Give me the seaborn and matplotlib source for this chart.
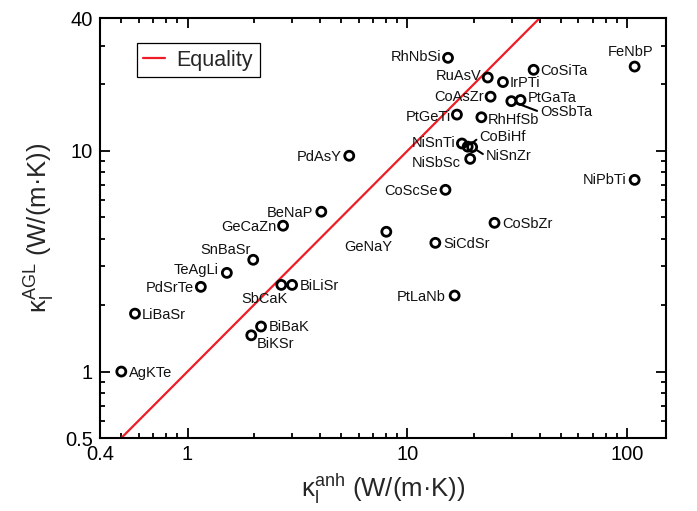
import matplotlib
matplotlib.use("Agg")
import matplotlib.pyplot as plt
import seaborn as sns
import pandas as pd
from matplotlib.ticker import LogLocator, NullFormatter, FixedLocator, FixedFormatter

# ---------------- data ----------------
compounds = ["AgKTe", "LiBaSr", "PdSrTe", "TeAgLi", "SnBaSr", "GeCaZn", "BeNaP",
             "SbCaK", "BiLiSr", "BiBaK", "BiKSr", "GeNaY", "PdAsY", "CoScSe",
             "SiCdSr", "CoSbZr", "PtLaNb", "NiPbTi", "NiSbSc", "NiSnTi", "CoBiHf",
             "NiSnZr", "FeNbP", "CoSiTa", "RhNbSi", "RuAsV", "IrPTi", "CoAsZr",
             "PtGaTa", "OsSbTa", "PtGeTi", "RhHfSb"]
kappa_anh = [0.50, 0.577, 1.15, 1.51, 1.99, 2.72, 4.06,
             2.67, 2.99, 2.16, 1.95, 8.02, 5.44, 14.9,
             13.4, 24.9, 16.4, 108.0, 19.3, 17.7, 18.8,
             19.7, 108.0, 37.5, 15.3, 23.2, 27.2, 23.9,
             32.7, 29.7, 16.8, 21.7]
kappa_agl = [1.00, 1.83, 2.42, 2.80, 3.21, 4.58, 5.30,
             2.47, 2.47, 1.60, 1.46, 4.30, 9.50, 6.66,
             3.83, 4.72, 2.21, 7.39, 9.20, 10.8, 10.45,
             10.4, 24.1, 23.3, 26.4, 21.5, 20.5, 17.6,
             17.0, 16.8, 14.6, 14.2]
equality_range = [0.5, 40]
x_ticks = [0.4, 1, 10, 100]
x_ticklabels = ["0.4", "1", "10", "100"]
y_ticks = [0.5, 1, 10, 40]
y_ticklabels = ["0.5", "1", "10", "40"]

# label placement: (dx px, dy px [image, down positive], ha, leader line)
label_pos = {
    "AgKTe": (8, 1, "left", False), "LiBaSr": (7, 1, "left", False),
    "PdSrTe": (-7, 1, "right", False), "TeAgLi": (-8, -3, "right", False),
    "SnBaSr": (-2, -10, "right", False), "GeCaZn": (-7, 1, "right", False),
    "BeNaP": (-8, 1, "right", False), "SbCaK": (-17, 14, "center", False),
    "BiLiSr": (8, 1.5, "left", False), "BiBaK": (8, 0, "left", False),
    "BiKSr": (5, 9, "left", False), "GeNaY": (-18, 15, "center", False),
    "PdAsY": (-8, 1, "right", False), "CoScSe": (-8, 1, "right", False),
    "SiCdSr": (8, 1, "left", False), "CoSbZr": (8, 1, "left", False),
    "PtLaNb": (-9, 1, "right", False), "NiPbTi": (-8, 0, "right", False),
    "NiSbSc": (-9, 4, "right", False), "NiSnTi": (-6, 0, "right", False),
    "CoBiHf": (12, -9.5, "left", True), "NiSnZr": (14, 9, "left", True),
    "FeNbP": (-4.5, -15, "center", False), "CoSiTa": (7, 1.5, "left", False),
    "RhNbSi": (-6.5, -1, "right", False), "RuAsV": (-6.5, -1.5, "right", False),
    "IrPTi": (6.5, 1, "left", False), "CoAsZr": (-7, 0, "right", False),
    "PtGaTa": (7, -2, "left", False), "OsSbTa": (29, 11, "left", True),
    "PtGeTi": (-6, 2, "right", False), "RhHfSb": (6.5, 3, "left", False),
}

df = pd.DataFrame({"name": compounds, "anh": kappa_anh, "agl": kappa_agl})
eq_df = pd.DataFrame({"x": equality_range, "y": equality_range})

# ---------------- style ----------------
sns.set_style("ticks")
plt.rcParams["font.family"] = ["Liberation Sans", "DejaVu Sans"]
plt.rcParams["mathtext.fontset"] = "custom"
plt.rcParams["mathtext.rm"] = "Liberation Sans"
plt.rcParams["mathtext.it"] = "Liberation Sans:italic"

fig = plt.figure(figsize=(6.97, 5.11), dpi=100)
ax = fig.add_axes([100 / 697, 1 - 438 / 511, 566 / 697, 420 / 511])

sns.lineplot(data=eq_df, x="x", y="y", ax=ax, color="#ee1c25", lw=1.6,
             label="Equality", zorder=2)
sns.scatterplot(data=df, x="anh", y="agl", ax=ax, marker="o", s=42,
                facecolor="none", edgecolor="black", linewidth=2.0, zorder=3)

ax.set_xscale("log")
ax.set_yscale("log")
ax.set_xlim(0.4, 150)
ax.set_ylim(0.5, 40)

for name, xv, yv in zip(compounds, kappa_anh, kappa_agl):
    dx, dy, ha, leader = label_pos[name]
    kw = {}
    if leader:
        kw["arrowprops"] = dict(arrowstyle="-", color="black", lw=1.5,
                                shrinkA=0, shrinkB=4, relpos=(0, 0.5))
    ax.annotate(name, (xv, yv), xytext=(dx, -dy), textcoords="offset pixels",
                ha=ha, va="center", fontsize=10.5, color="#111111", zorder=4, **kw)

# ticks
ax.xaxis.set_major_locator(FixedLocator(x_ticks))
ax.xaxis.set_major_formatter(FixedFormatter(x_ticklabels))
ax.yaxis.set_major_locator(FixedLocator(y_ticks))
ax.yaxis.set_major_formatter(FixedFormatter(y_ticklabels))
for axis in (ax.xaxis, ax.yaxis):
    axis.set_minor_locator(LogLocator(base=10, subs=range(2, 10)))
    axis.set_minor_formatter(NullFormatter())
ax.tick_params(which="both", direction="in", top=True, right=True,
               width=1.3, colors="black", labelsize=14.5)
ax.tick_params(which="major", length=7, pad=5)
ax.tick_params(which="minor", length=3.5)
for sp in ax.spines.values():
    sp.set_visible(True)
    sp.set_linewidth(1.5)
    sp.set_color("black")

ax.set_xlabel(r"$\mathregular{κ_l^{anh}}$ (W/(m·K))", fontsize=18.5, labelpad=6)
ax.set_ylabel(r"$\mathregular{κ_l^{AGL}}$ (W/(m·K))", fontsize=18.5, labelpad=6)

leg = ax.legend(loc="upper left", bbox_to_anchor=(0.065, 0.94), borderaxespad=0,
                fontsize=15.5, handlelength=1.0, handletextpad=0.55,
                borderpad=0.3, fancybox=False, framealpha=1, edgecolor="black")
leg.get_frame().set_linewidth(0.9)

fig.savefig("out.png", dpi=100)
